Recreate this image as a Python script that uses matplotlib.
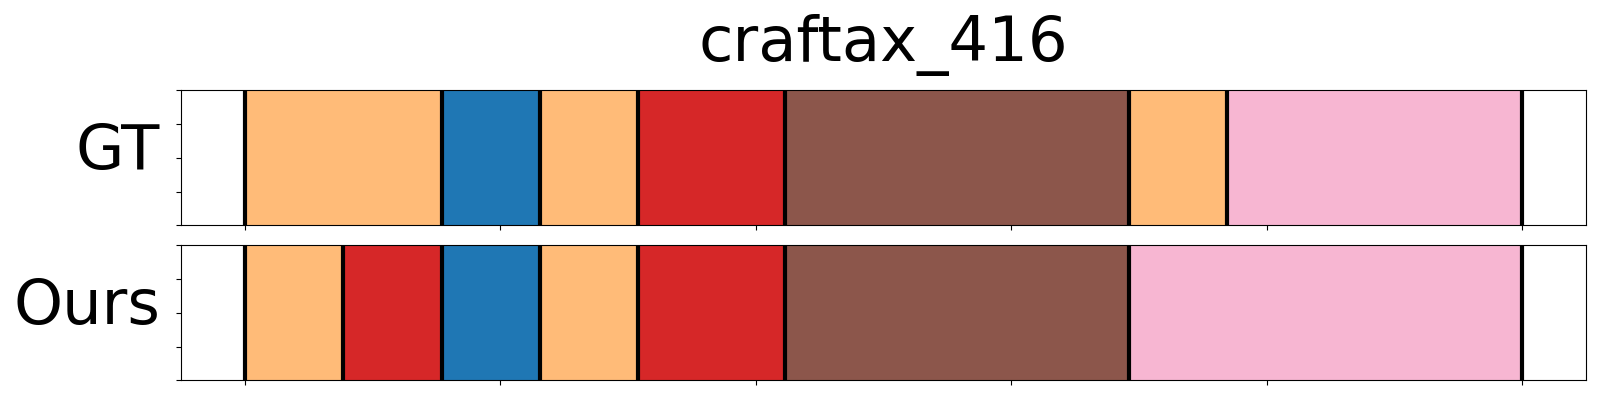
import matplotlib
matplotlib.use("Agg")
import matplotlib.pyplot as plt

title = "craftax_416"
row_labels = ["GT", "Ours"]

# segment boundaries (data units) and segment colours per row
gt_bounds = [0, 38.5, 57.7, 76.9, 105.8, 173.1, 192.3, 250]
gt_colors = ["#ffbb78", "#1f77b4", "#ffbb78", "#d62728", "#8c564b", "#ffbb78", "#f7b6d2"]

ours_bounds = [0, 19.2, 38.5, 57.7, 76.9, 105.8, 173.1, 250]
ours_colors = ["#ffbb78", "#d62728", "#1f77b4", "#ffbb78", "#d62728", "#8c564b", "#f7b6d2"]

xticks = [0, 50, 100, 150, 200, 250]
yticks = [0, 0.25, 0.5, 0.75, 1.0]

rows = [(gt_bounds, gt_colors), (ours_bounds, ours_colors)]

fig = plt.figure(figsize=(16, 4), dpi=100)
left, right = 0.1133, 0.9911
axes_rect = [(0.4368, 0.7743), (0.0493, 0.3868)]

for i, ((bounds, colors), label) in enumerate(zip(rows, row_labels)):
    b, t = axes_rect[i]
    ax = fig.add_axes([left, b, right - left, t - b])
    for x0, x1, c in zip(bounds[:-1], bounds[1:], colors):
        ax.axvspan(x0, x1, color=c, lw=0)
    for x in bounds:
        ax.axvline(x, color="black", lw=3)
    ax.set_xlim(bounds[0] - 0.05 * (bounds[-1] - bounds[0]),
                bounds[-1] + 0.05 * (bounds[-1] - bounds[0]))
    ax.set_ylim(0, 1)
    ax.set_xticks(xticks)
    ax.set_xticklabels([])
    ax.set_yticks(yticks)
    ax.set_yticklabels([])
    ax.set_ylabel(label, rotation=0, ha="right", va="center", fontsize=45)
    ax.yaxis.set_label_coords(-0.0150, 0.545)
    if i == 0:
        ax.set_title(title, fontsize=45, pad=21)

fig.savefig("out.png", dpi=100)
